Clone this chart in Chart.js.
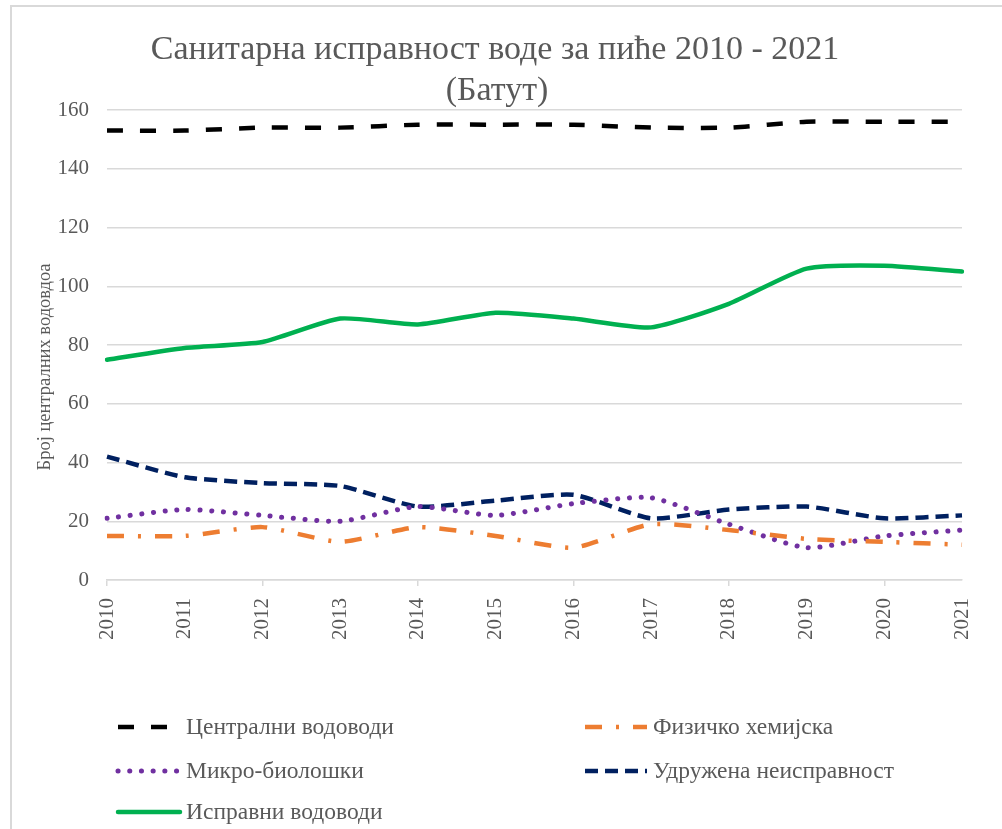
<!DOCTYPE html>
<html>
<head>
<meta charset="utf-8">
<script src="https://cdn.jsdelivr.net/npm/chart.js@4.4.1/dist/chart.umd.min.js"></script>
<style>
  html, body { margin: 0; padding: 0; background: #fff; }
  #wrap { position: relative; width: 1002px; height: 829px; overflow: hidden; }
  #frame { position: absolute; left: 10px; top: 5px; width: 1010px; height: 850px;
           border-left: 2px solid #d9d9d9; border-top: 2px solid #d9d9d9; box-sizing: border-box; }
  canvas { position: absolute; left: 0; top: 0; }
</style>
</head>
<body>
<div id="wrap">
  <div id="frame"></div>
  <canvas id="c" width="1002" height="829"></canvas>
</div>
<script>
const titleLines = ['Санитарна исправност воде за пиће 2010 - 2021', '(Батут)'];
const yAxisTitle = 'Број централних водовдоа';
const years = ['2010','2011','2012','2013','2014','2015','2016','2017','2018','2019','2020','2021'];
const yTicks = [0, 20, 40, 60, 80, 100, 120, 140, 160];

const centralni = [153, 153, 154, 154, 155, 155, 155, 154, 154, 156, 156, 156];
const fizicko   = [15, 15, 18, 13, 18, 15, 11, 19, 17, 14, 13, 12];
const mikro     = [21, 24, 22, 20, 25, 22, 26, 28, 19, 11, 15, 17];
const udruzena  = [42, 35, 33, 32, 25, 27, 29, 21, 24, 25, 21, 22];
const ispravni  = [75, 79, 81, 89, 87, 91, 89, 86, 94, 106, 107, 105];

const SERIF = '"Liberation Serif", "Times New Roman", serif';
const TXT = '#595959';

const datasets = [
  { label: 'Централни водоводи', data: centralni, borderColor: '#000000', borderDash: [16, 17], borderWidth: 4.5, borderCapStyle: 'butt', col: 0, row: 0 },
  { label: 'Физичко хемијска', data: fizicko, borderColor: '#ED7D31', borderDash: [17, 14, 3, 14], borderWidth: 4.5, borderCapStyle: 'butt', col: 1, row: 0 },
  { label: 'Микро-биолошки', data: mikro, borderColor: '#7030A0', borderDash: [0.1, 11.6], borderWidth: 5, borderCapStyle: 'round', col: 0, row: 1 },
  { label: 'Удружена неисправност', data: udruzena, borderColor: '#002060', borderDash: [13, 7], borderWidth: 4.5, borderCapStyle: 'butt', col: 1, row: 1 },
  { label: 'Исправни водоводи', data: ispravni, borderColor: '#00B050', borderDash: [], borderWidth: 4.5, borderCapStyle: 'round', col: 0, row: 2 }
].map(d => Object.assign(d, { pointRadius: 0, pointHoverRadius: 0, fill: false, tension: 0.2 }));

const legendPlugin = {
  id: 'customLegend',
  afterDraw(chart) {
    const ctx = chart.ctx;
    const colX = [118, 585];
    const rowY = [727, 771, 812];
    const sampleLen = 62;
    ctx.save();
    chart.data.datasets.forEach(ds => {
      const x = colX[ds.col], y = rowY[ds.row];
      ctx.beginPath();
      ctx.strokeStyle = ds.borderColor;
      ctx.lineWidth = ds.borderWidth;
      ctx.lineCap = ds.borderCapStyle;
      ctx.setLineDash(ds.borderDash);
      ctx.moveTo(x, y);
      ctx.lineTo(x + sampleLen, y);
      ctx.stroke();
      ctx.setLineDash([]);
      ctx.fillStyle = TXT;
      ctx.font = '23.5px ' + SERIF;
      ctx.textBaseline = 'middle';
      ctx.textAlign = 'left';
      ctx.fillText(ds.label, x + sampleLen + 6, y + 1);
    });
    ctx.restore();
  }
};

const titlePlugin = {
  id: 'customTitle',
  afterDraw(chart) {
    const ctx = chart.ctx;
    ctx.save();
    ctx.fillStyle = TXT;
    ctx.font = '34px ' + SERIF;
    ctx.textAlign = 'center';
    ctx.textBaseline = 'middle';
    ctx.fillText(titleLines[0], 495, 50);
    ctx.fillText(titleLines[1], 497, 91);
    // y axis title
    ctx.translate(45, 367);
    ctx.rotate(-Math.PI / 2);
    ctx.font = '18.5px ' + SERIF;
    ctx.fillText(yAxisTitle, 0, 0);
    ctx.restore();
  }
};

new Chart(document.getElementById('c'), {
  type: 'line',
  data: { labels: years, datasets },
  options: {
    responsive: false,
    animation: false,
    events: [],
    layout: { padding: { top: 110, right: 40, bottom: 169, left: 0 } },
    plugins: { legend: { display: false }, title: { display: false }, tooltip: { enabled: false } },
    scales: {
      x: {
        offset: false,
        border: { display: true, color: '#d9d9d9', width: 1.5 },
        grid: {
          drawOnChartArea: false, drawTicks: true, tickLength: 6,
          color: c => (c.index % 2 === 0 ? '#d9d9d9' : 'rgba(0,0,0,0)'), lineWidth: 1.5
        },
        ticks: { maxRotation: 90, minRotation: 90, autoSkip: false, padding: 12, color: TXT, font: { family: SERIF, size: 21 } },
        afterFit: s => { s.height = 80; }
      },
      y: {
        min: 0, max: 160,
        afterBuildTicks: s => { s.ticks = yTicks.map(v => ({ value: v })); },
        border: { display: false },
        grid: { color: '#d9d9d9', lineWidth: 1.5, drawTicks: false },
        ticks: { padding: 18, color: TXT, font: { family: SERIF, size: 21 } },
        afterFit: s => { s.width = 107; }
      }
    }
  },
  plugins: [legendPlugin, titlePlugin]
});
</script>
</body>
</html>
